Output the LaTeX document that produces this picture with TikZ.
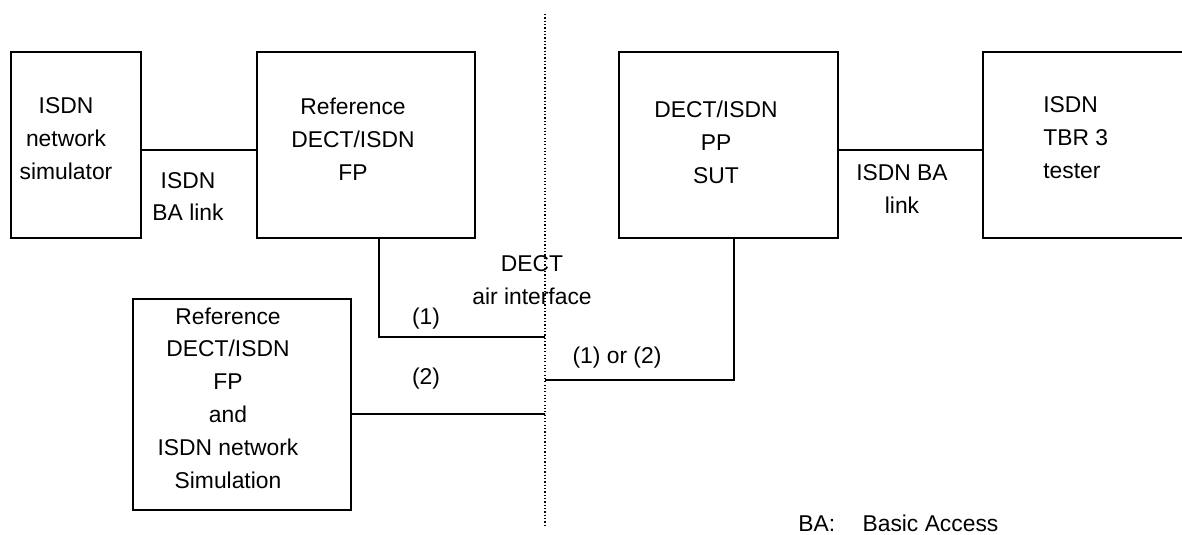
\documentclass[tikz,border=0pt]{standalone}
\usepackage{fontspec}
\setmainfont{Liberation Sans}
\usetikzlibrary{calc}
\tikzset{
	box/.style={draw, line width=1.1pt, inner sep=0pt},
	lbl/.style={inner sep=0pt, align=center, font=\fontsize{13}{18.7}\selectfont},
	wire/.style={line width=1.1pt},
	airline/.style={line width=0.8pt, dash pattern=on 0.7pt off 1.2pt}
}

\begin{document}
\begin{tikzpicture}[x=0.02cm, y=-0.02cm]
			%%%%% START %%%%%
			\useasboundingbox (0, 0) rectangle (1182, 534);
			
			% boxes
			\node[box, minimum width=2.6cm, minimum height=3.72cm] (sim) at (76, 145) {};
			\node[box, minimum width=4.36cm, minimum height=3.72cm] (fpa) at (366, 145) {};
			\node[box, minimum width=4.38cm, minimum height=3.72cm] (pp) at (728.5, 145) {};
			\node[box, minimum width=5.4cm, minimum height=3.72cm] (tester) at (1118, 145) {};
			\node[box, minimum width=4.36cm, minimum height=4.22cm] (fpsim) at (242, 404.5) {};
			
			\node[lbl] (simtxt) at (66, 138.5) {ISDN\\network\\simulator};
			\node[lbl] (fpatxt) at (353, 139) {Reference\\DECT/ISDN\\FP};
			\node[lbl] (pptxt) at (716, 142.5) {DECT/ISDN\\PP\\SUT};
			\node[lbl, align=left, anchor=west] (testertxt) at (1043, 137.5) {ISDN\\TBR 3\\tester};
			\node[lbl] (fpsimtxt) at (228, 398) {Reference\\DECT/ISDN\\FP\\and\\ISDN network\\Simulation};
			
			% air interface
			\coordinate (airtop) at (545, 14);
			\coordinate (airbot) at (545, 527);
			\coordinate (j1) at (545, 337);
			\coordinate (j2) at (545, 380);
			\coordinate (j3) at (545, 414);
			\draw[airline] (airtop) -- (airbot);
			\node[lbl] (airtxt) at (532, 280) {DECT\\air interface};
			
			% links
			\draw[wire] ([yshift=-0.1cm]sim.east) -- ([yshift=-0.1cm]fpa.west);
			\node[lbl] (balink1) at (188, 196.5) {ISDN\\BA link};
			\draw[wire] ([yshift=-0.1cm]pp.east) -- ([yshift=-0.1cm]tester.west);
			\node[lbl] (balink2) at (902, 189) {ISDN BA\\link};
			
			\draw[wire] ([xshift=0.26cm]fpa.south) |- (j1);
			\node[lbl] (one) at (426, 318.5) {(1)};
			\draw[wire] ([yshift=-0.19cm]fpsim.east) -- (j3);
			\node[lbl] (two) at (426, 378.5) {(2)};
			\draw[wire] ([xshift=0.11cm]pp.south) |- (j2);
			\node[lbl] (onetwo) at (617, 357.5) {(1) or (2)};
			
			\node[lbl, anchor=base west] (batxt) at (798, 531) {BA:\hspace{1.2em}Basic Access};
			%%%%% END %%%%%
\end{tikzpicture}
\end{document}
